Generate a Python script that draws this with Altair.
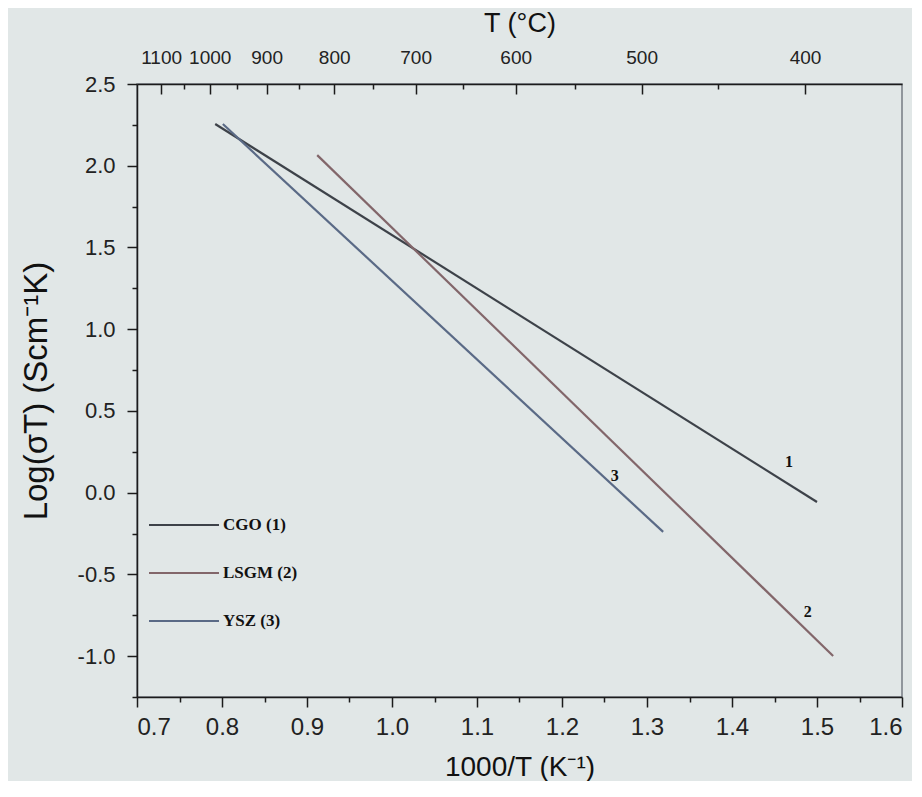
import altair as alt
import pandas as pd

# ---- data ----
materials = ["CGO (1)", "LSGM (2)", "YSZ (3)"]
x_start = [0.792, 0.912, 0.801]
y_start = [2.255, 2.065, 2.255]
x_end = [1.500, 1.519, 1.319]
y_end = [-0.057, -0.999, -0.240]
colors = ["#3d4249", "#82666a", "#5a6a86"]

ann_text = ["1", "2", "3"]
ann_x = [1.467, 1.489, 1.262]
ann_y = [0.19, -0.73, 0.10]

x_major = [0.7, 0.8, 0.9, 1.0, 1.1, 1.2, 1.3, 1.4, 1.5, 1.6]
x_minor = [0.75, 0.85, 0.95, 1.05, 1.15, 1.25, 1.35, 1.45, 1.55]
y_major = [-1.0, -0.5, 0.0, 0.5, 1.0, 1.5, 2.0, 2.5]
y_minor = [-1.25, -0.75, -0.25, 0.25, 0.75, 1.25, 1.75, 2.25]
t_major = [1100, 1000, 900, 800, 700, 600, 500, 400]
t_minor = [1050, 950, 850, 750, 650, 550, 450]

rows = []
for m, xa, ya, xb, yb in zip(materials, x_start, y_start, x_end, y_end):
    rows.append({"material": m, "x": xa, "y": ya, "o": 0})
    rows.append({"material": m, "x": xb, "y": yb, "o": 1})
df = pd.DataFrame(rows)
ann = pd.DataFrame({"label": ann_text, "x": ann_x, "y": ann_y})

t_major_pos = [1000.0 / (t + 273) for t in t_major]
t_minor_pos = [1000.0 / (t + 273) for t in t_minor]

FONT = "Liberation Sans"
AX = "#1b1b1b"
xs = alt.Scale(domain=[0.7, 1.6], nice=False, zero=False)
ys = alt.Scale(domain=[-1.25, 2.5], nice=False, zero=False)
minus_fix = "datum.value < 0 ? '-' + format(-datum.value, '.1f') : format(datum.value, '.1f')"

lines = alt.Chart(df).mark_line(strokeWidth=2.2).encode(
    x=alt.X("x:Q", scale=xs, title="1000/T (K⁻¹)",
            axis=alt.Axis(orient="bottom", values=x_major, labelExpr=minus_fix,
                          tickSize=10, tickColor=AX, domainColor=AX, tickWidth=1.5, domainWidth=1.5,
                          labelPadding=8, labelFontSize=24, labelColor="#222", labelFont=FONT,
                          titleFont=FONT, titleFontSize=28, titleFontWeight="normal",
                          titleColor="#111", titlePadding=14)),
    y=alt.Y("y:Q", scale=ys, title="Log(σT) (Scm⁻¹K)",
            axis=alt.Axis(orient="left", values=y_major, labelExpr=minus_fix,
                          tickSize=10, tickColor=AX, domainColor=AX, tickWidth=1.5, domainWidth=1.5,
                          labelPadding=12, labelFontSize=22, labelColor="#222", labelFont=FONT,
                          titleFont=FONT, titleFontSize=33, titleFontWeight="normal",
                          titleColor="#111", titlePadding=24)),
    color=alt.Color("material:N", scale=alt.Scale(domain=materials, range=colors),
                    legend=alt.Legend(title=None, orient="none", legendX=34, legendY=428,
                                      symbolType="M-3,0H3", symbolSize=544, symbolStrokeWidth=2.2,
                                      labelFont="Liberation Serif", labelFontWeight="bold",
                                      labelFontSize=17, labelColor="#111", labelOffset=26,
                                      rowPadding=27, padding=0)),
    order="o:Q",
)

labels = alt.Chart(ann).mark_text(font="Liberation Serif", fontWeight="bold", fontSize=16,
                                  color="#111", align="center", baseline="middle").encode(
    x=alt.X("x:Q", scale=xs, title=None,
            axis=alt.Axis(orient="bottom", values=x_minor, labels=False, domain=False,
                          tickSize=5, tickColor=AX, tickWidth=1.5)),
    y=alt.Y("y:Q", scale=ys, title=None,
            axis=alt.Axis(orient="left", values=y_minor, labels=False, domain=False,
                          tickSize=5, tickColor=AX, tickWidth=1.5)),
    text="label:N",
)

top_labels = alt.Chart(ann).mark_point(opacity=0, size=1).encode(
    x=alt.X("x:Q", scale=xs, title="T (°C)",
            axis=alt.Axis(orient="top", values=t_major_pos,
                          labelExpr="format(1000 / datum.value - 273, '.0f')",
                          ticks=False, domain=False, labelPadding=17, labelFontSize=19,
                          labelColor="#222", labelFont=FONT, labelFlush=False, labelOverlap=False,
                          titleFont=FONT, titleFontSize=27, titleFontWeight="normal",
                          titleColor="#111", titlePadding=11)),
    y=alt.Y("y:Q", scale=ys, axis=None),
)

top_major = alt.Chart(ann).mark_point(opacity=0, size=1).encode(
    x=alt.X("x:Q", scale=xs, title=None,
            axis=alt.Axis(orient="top", values=t_major_pos, labels=False,
                          tickSize=alt.ExprRef("-10"), tickColor=AX, tickWidth=1.5,
                          domainColor=AX, domainWidth=1.5)),
    y=alt.Y("y:Q", scale=ys, axis=None),
)

top_minor = alt.Chart(ann).mark_point(opacity=0, size=1).encode(
    x=alt.X("x:Q", scale=xs, title=None,
            axis=alt.Axis(orient="top", values=t_minor_pos, labels=False, domain=False,
                          tickSize=alt.ExprRef("-5"), tickColor=AX, tickWidth=1.5)),
    y=alt.Y("y:Q", scale=ys, axis=None),
)

chart = alt.layer(lines, labels, top_labels, top_major, top_minor).resolve_axis(
    x="independent", y="independent"
).properties(
    width=765, height=613, autosize="none",
    padding={"left": 129, "top": 76, "right": 10, "bottom": 84},
    background="#e1e7e7",
).configure_axis(grid=False).configure_view(stroke="#767c84", strokeWidth=1.5)

chart.save("out.html", embed_options={"renderer": "svg", "actions": False})
